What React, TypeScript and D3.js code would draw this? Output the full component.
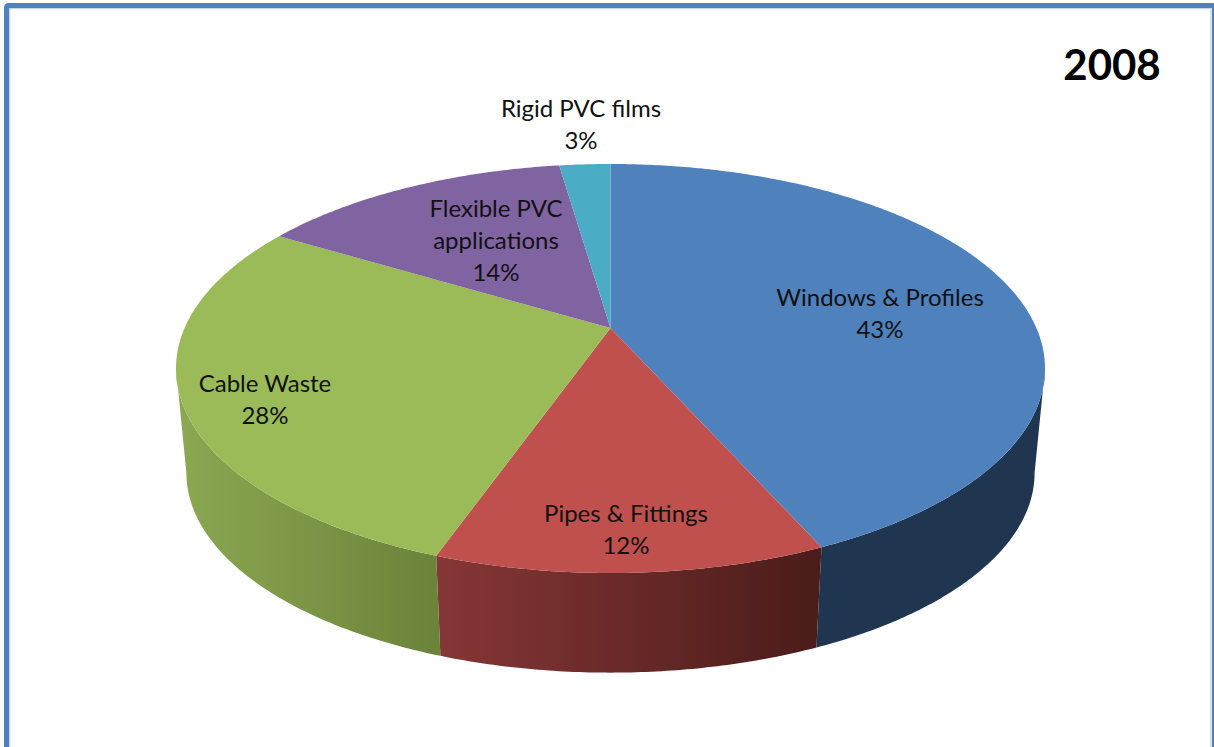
import * as d3 from 'd3';

const categories = ['Windows & Profiles', 'Pipes & Fittings', 'Cable Waste', 'Flexible PVC applications', 'Rigid PVC films'];
// Labels print whole percents, the slices themselves measure a little off those.
const shares = [43.35, 12.05, 28.2, 14.1, 2.3];
const percentLabels = ['43%', '12%', '28%', '14%', '3%'];
const title = '2008';

const topColours = ['#4f81bd', '#c0504d', '#9bbb59', '#8064a2', '#4bacc6'];
const labelLines = [['Windows & Profiles'], ['Pipes & Fittings'], ['Cable Waste'], ['Flexible PVC', 'applications'], ['Rigid PVC films']];
const labelSpots = [
    [880, 306],
    [626, 522],
    [265, 392],
    [496, 217],
    [581, 117],
];

const width = 1214;
const height = 747;
const lineHeight = 32;

// perspective disc: centre sits above the middle of the ellipse
const cx = 610.5;
const cy = 328;
const tilt = 0.198;
const radiusX = 425.9;
const radiusY = 196.5;
const depthScale = 0.976;
const floorY = 433.5;

// the angles where the rim is widest, the wall is only visible between them
const wallStart = Math.acos(-tilt);
const wallEnd = 2 * Math.PI - wallStart;

function project(angle: number) {
    const u = Math.sin(angle);
    const v = -Math.cos(angle);
    const w = 1 - tilt * v;
    return [(radiusX * u) / w, (radiusY * v) / w];
}

const top = (a: number): [number, number] => {
    const [dx, dy] = project(a);
    return [cx + dx, cy + dy];
};
const floor = (a: number): [number, number] => {
    const [dx, dy] = project(a);
    return [cx + dx * depthScale, floorY + dy * depthScale];
};

function arcAngles(start: number, end: number) {
    const steps = Math.max(2, Math.ceil((end - start) / 0.01));
    return d3.range(steps + 1).map((i) => start + ((end - start) * i) / steps);
}

export default function App() {
    const slices = d3
        .pie<number>()
        .sort(null)
        .value((d) => d)(shares);
    const line = d3.line();

    const facePath = (start: number, end: number) =>
        line([[cx, cy], ...arcAngles(start, end).map(top)])! + 'Z';
    const sidePath = (start: number, end: number) => {
        const angles = arcAngles(Math.max(start, wallStart), Math.min(end, wallEnd));
        return line([...angles.map(top), ...[...angles].reverse().map(floor)])! + 'Z';
    };

    const sideFills = ['#1f3550', 'url(#redSide)', 'url(#greenSide)'];

    return (
        <svg
            width={width}
            height={height}
            viewBox={`0 0 ${width} ${height}`}
            style={{ position: 'absolute', left: 0, top: 0, display: 'block', background: '#fff' }}
            fontFamily="Lato, 'Open Sans', sans-serif"
        >
            <defs>
                <linearGradient id="redSide" gradientUnits="userSpaceOnUse" x1={437} x2={821} y1={0} y2={0}>
                    <stop offset="0" stopColor="#863636" />
                    <stop offset="1" stopColor="#4a1c1a" />
                </linearGradient>
                <linearGradient id="greenSide" gradientUnits="userSpaceOnUse" x1={176} x2={441} y1={0} y2={0}>
                    <stop offset="0" stopColor="#8ca852" />
                    <stop offset="1" stopColor="#6b8239" />
                </linearGradient>
            </defs>

            <rect x={9.5} y={8.5} width={1201.5} height={760} fill="none" stroke="#c6d6ea" strokeWidth={1.5} />
            <rect x={6.5} y={5.5} width={1208} height={760} rx={2} fill="none" stroke="#4f81bd" strokeWidth={5} />

            <g>
                {slices.slice(0, 3).map((s, i) => (
                    <path key={categories[i]} d={sidePath(s.startAngle, s.endAngle)} fill={sideFills[i]} />
                ))}
            </g>
            <g>
                {slices.map((s, i) => (
                    <path key={categories[i]} d={facePath(s.startAngle, s.endAngle)} fill={topColours[i]} />
                ))}
            </g>

            <g fontSize={24} fill="#111" textAnchor="middle">
                {categories.map((name, i) => {
                    const [x, y] = labelSpots[i];
                    const rows = [...labelLines[i], percentLabels[i]];
                    return (
                        <text key={name} x={x} y={y}>
                            {rows.map((row, j) => (
                                <tspan key={j} x={x} y={y + j * lineHeight}>
                                    {row}
                                </tspan>
                            ))}
                        </text>
                    );
                })}
            </g>

            <text x={1112} y={80} fontSize={42} fontWeight="bold" fill="#000" textAnchor="middle">
                {title}
            </text>
        </svg>
    );
}
